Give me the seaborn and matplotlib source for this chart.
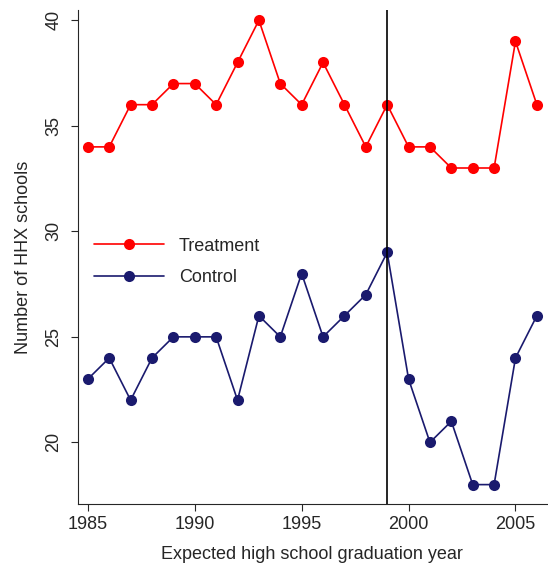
import matplotlib
matplotlib.use("Agg")
import matplotlib.pyplot as plt
import seaborn as sns
import pandas as pd

years = list(range(1985, 2007))
treatment = [34,34,36,36,37,37,36,38,40,37,36,38,36,34,36,34,34,33,33,33,39,36]
control = [23,24,22,24,25,25,25,22,26,25,28,25,26,27,29,23,20,21,18,18,24,26]

sns.set_style("ticks")
plt.rcParams['font.family'] = ['Liberation Sans', 'DejaVu Sans']
df = pd.DataFrame({"year": years*2, "n": treatment+control,
                   "group": ["Treatment"]*22 + ["Control"]*22})
fig, ax = plt.subplots(figsize=(5.48, 5.7), dpi=100)
fig.subplots_adjust(left=0.142, right=0.998, top=0.983, bottom=0.115)
sns.lineplot(data=df, x="year", y="n", hue="group", palette={"Treatment": "#ff0000", "Control": "#1a1a6e"},
             marker="o", markersize=8, markeredgewidth=0, linewidth=1.2, ax=ax)
ax.axvline(1999, color="black", linewidth=1.2)
ax.set_xlim(1984.53, 2006.47)
ax.set_ylim(17.06, 40.5)
ax.set_xticks([1985, 1990, 1995, 2000, 2005])
ax.set_yticks([20, 25, 30, 35, 40])
ax.tick_params(axis="y", labelrotation=90, labelsize=13, pad=6, length=5)
ax.tick_params(axis="x", labelsize=13, length=5)
for t in ax.get_yticklabels():
    t.set_va("center")
ax.set_xlabel("Expected high school graduation year", fontsize=13, labelpad=9)
ax.set_ylabel("Number of HHX schools", fontsize=13, labelpad=10)
sns.despine(ax=ax)
ax.legend(title=None, frameon=False, fontsize=13, loc="center left", bbox_to_anchor=(0.0, 0.49),
          handlelength=3.9, labelspacing=0.8)
fig.savefig("out.png")
